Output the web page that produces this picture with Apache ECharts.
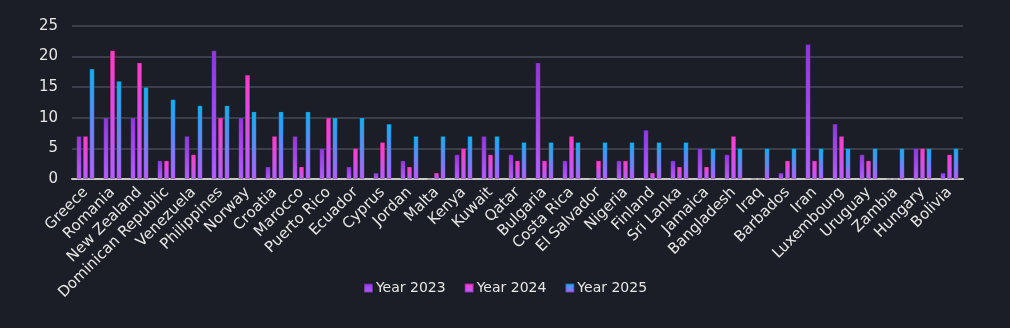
<!DOCTYPE html>
<html>
<head>
<meta charset="utf-8">
<style>
html,body{margin:0;padding:0;background:#1b1e27;}
#c{width:1010px;height:328px;}
</style>
<script src="https://cdn.jsdelivr.net/npm/echarts@6/dist/echarts.min.js"></script>
</head>
<body>
<div id="c"></div>
<script>
const categories = ["Greece","Romania","New Zealand","Dominican Republic","Venezuela","Philippines","Norway","Croatia","Marocco","Puerto Rico","Ecuador","Cyprus","Jordan","Malta","Kenya","Kuwait","Qatar","Bulgaria","Costa Rica","El Salvador","Nigeria","Finland","Sri Lanka","Jamaica","Bangladesh","Iraq","Barbados","Iran","Luxembourg","Uruguay","Zambia","Hungary","Bolivia"];
const year2023 = [7,10,10,3,7,21,10,2,7,5,2,1,3,0,4,7,4,19,3,0,3,8,3,5,4,0,1,22,9,4,0,5,1];
const year2024 = [7,21,19,3,4,10,17,7,2,10,5,6,2,1,5,4,3,3,7,3,3,1,2,2,7,0,3,3,7,3,0,5,4];
const year2025 = [18,16,15,13,12,12,11,11,11,10,10,9,7,7,7,7,6,6,6,6,6,6,6,5,5,5,5,5,5,5,5,5,5];
const seriesNames = ["Year 2023","Year 2024","Year 2025"];
const yTicks = [0,5,10,15,20,25];

const FONT = "DejaVu Sans";
function grad(top){
  return new echarts.graphic.LinearGradient(0,0,0,1,[{offset:0,color:top},{offset:1,color:'#b55fff'}]);
}
const tops = ['#9038dc','#ff3cc6','#12b0ee'];
const chart = echarts.init(document.getElementById('c'));
chart.setOption({
  backgroundColor:'#1b1e27',
  animation:false,
  textStyle:{fontFamily:FONT},
  grid:{left:72,right:47,top:26,bottom:149},
  legend:{
    bottom:28,left:'center',
    itemWidth:9,itemHeight:9,itemGap:18,
    icon:'rect',
    textStyle:{color:'#e6e6e6',fontSize:14,fontFamily:FONT,padding:[0,0,0,-2]},
    data:seriesNames
  },
  xAxis:{
    type:'category',data:categories,
    axisLine:{lineStyle:{color:'#c8c8c8',width:2}},
    axisTick:{show:false},
    axisLabel:{rotate:45,interval:0,color:'#e6e6e6',fontSize:15,fontFamily:FONT,margin:11}
  },
  yAxis:{
    type:'value',min:yTicks[0],max:yTicks[yTicks.length-1],interval:5,
    axisLine:{show:false},axisTick:{show:false},
    splitLine:{lineStyle:{color:'#3b3f49',width:2}},
    axisLabel:{color:'#e6e6e6',fontSize:15,fontFamily:FONT,margin:14}
  },
  series:[year2023,year2024,year2025].map((d,i)=>({
    name:seriesNames[i],type:'bar',data:d,barWidth:5,barGap:'30%',
    itemStyle:{color:grad(tops[i]),borderColor:'rgba(20,10,40,0.35)',borderWidth:0.5}
  }))
});
</script>
</body>
</html>
